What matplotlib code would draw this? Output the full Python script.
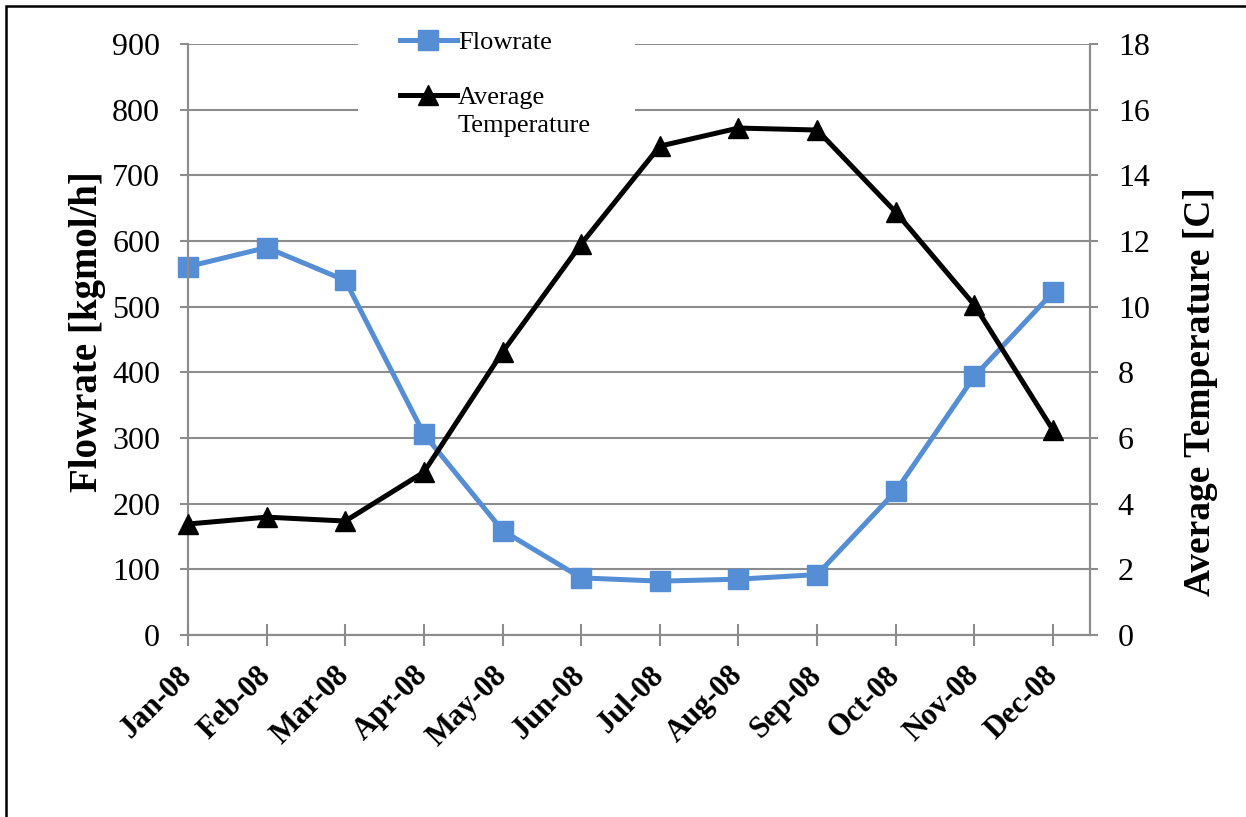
import matplotlib.pyplot as plt
from matplotlib.patches import Rectangle

months = ["Jan-08", "Feb-08", "Mar-08", "Apr-08", "May-08", "Jun-08",
          "Jul-08", "Aug-08", "Sep-08", "Oct-08", "Nov-08", "Dec-08"]
flowrate = [561, 590, 540, 306, 159, 87, 82, 85, 92, 219, 394, 522]
avg_temp = [3.38, 3.59, 3.47, 4.96, 8.62, 11.91, 14.89, 15.44, 15.38, 12.88, 10.05, 6.24]

BLUE = "#558ed5"
GRID = "#8c8c8c"
W, H = 1246, 817

plt.rcParams["font.family"] = ["Liberation Serif", "DejaVu Serif"]

fig = plt.figure(figsize=(W / 100, H / 100), dpi=100)
ax = fig.add_axes([188 / W, 1 - 635 / H, 902 / W, 591 / H])
ax2 = ax.twinx()

x = list(range(len(months)))
l1, = ax.plot(x, flowrate, color=BLUE, lw=3.6, marker="s", ms=14,
              label="Flowrate", zorder=3, clip_on=False)
l2, = ax2.plot(x, avg_temp, color="black", lw=3.6, marker="^", ms=14,
               label="Average", zorder=3, clip_on=False)

ax.set_xlim(0, 11.47)
ax.set_ylim(0, 900)
ax.set_yticks(range(0, 901, 100))
ax2.set_ylim(0, 18)
ax2.set_yticks(range(0, 19, 2))
ax.set_xticks(x)
ax.set_xticklabels(months, rotation=45, ha="right", va="center",
                   rotation_mode="anchor", fontsize=22, fontweight="bold")

ax.grid(axis="y", color=GRID, lw=1.5)
ax.set_axisbelow(True)

for a in (ax, ax2):
    a.spines["top"].set_visible(False)
    for side in ("left", "right", "bottom"):
        a.spines[side].set_color(GRID)
        a.spines[side].set_linewidth(1.5)
    a.tick_params(axis="y", labelsize=23, length=6, width=1.5, color=GRID, pad=14)
ax.tick_params(axis="x", direction="inout", length=16, width=1.5, color=GRID, pad=18)

ax.set_ylabel("Flowrate [kgmol/h]", fontsize=28, fontweight="bold")
ax.yaxis.set_label_coords(-0.091, 0.513)
ax2.set_ylabel("Average Temperature [C]", fontsize=27, fontweight="bold")
ax2.yaxis.set_label_coords(1.103, 0.411)

# white patch behind the legend hides the gridlines there
ax2.add_patch(Rectangle((358 / W, 1 - 150 / H), 277 / W, 125 / H,
                        transform=fig.transFigure, facecolor="white",
                        edgecolor="none", zorder=1, clip_on=False))

leg = ax2.legend(handles=[l1, l2], loc="upper left",
                 bbox_to_anchor=(400 / W, 1 - 31 / H),
                 bbox_transform=fig.transFigure, frameon=False, fontsize=19,
                 handlelength=2.15, handletextpad=0.05, labelspacing=1.18,
                 borderpad=0, borderaxespad=0)
# second line of the temperature entry, hung under "Average"
ax2.annotate("Temperature", xy=(0, 0), xycoords=leg.texts[1],
             xytext=(0, -4), textcoords="offset points",
             ha="left", va="top", fontsize=19, zorder=6)

# outer chart border (top and left edges visible)
fig.patches.append(Rectangle((6 / W, -0.1), 1.2, 1 - 6 / H + 0.1,
                             transform=fig.transFigure, fill=False,
                             edgecolor="black", lw=1.8))

fig.savefig("out.png", dpi=100)
